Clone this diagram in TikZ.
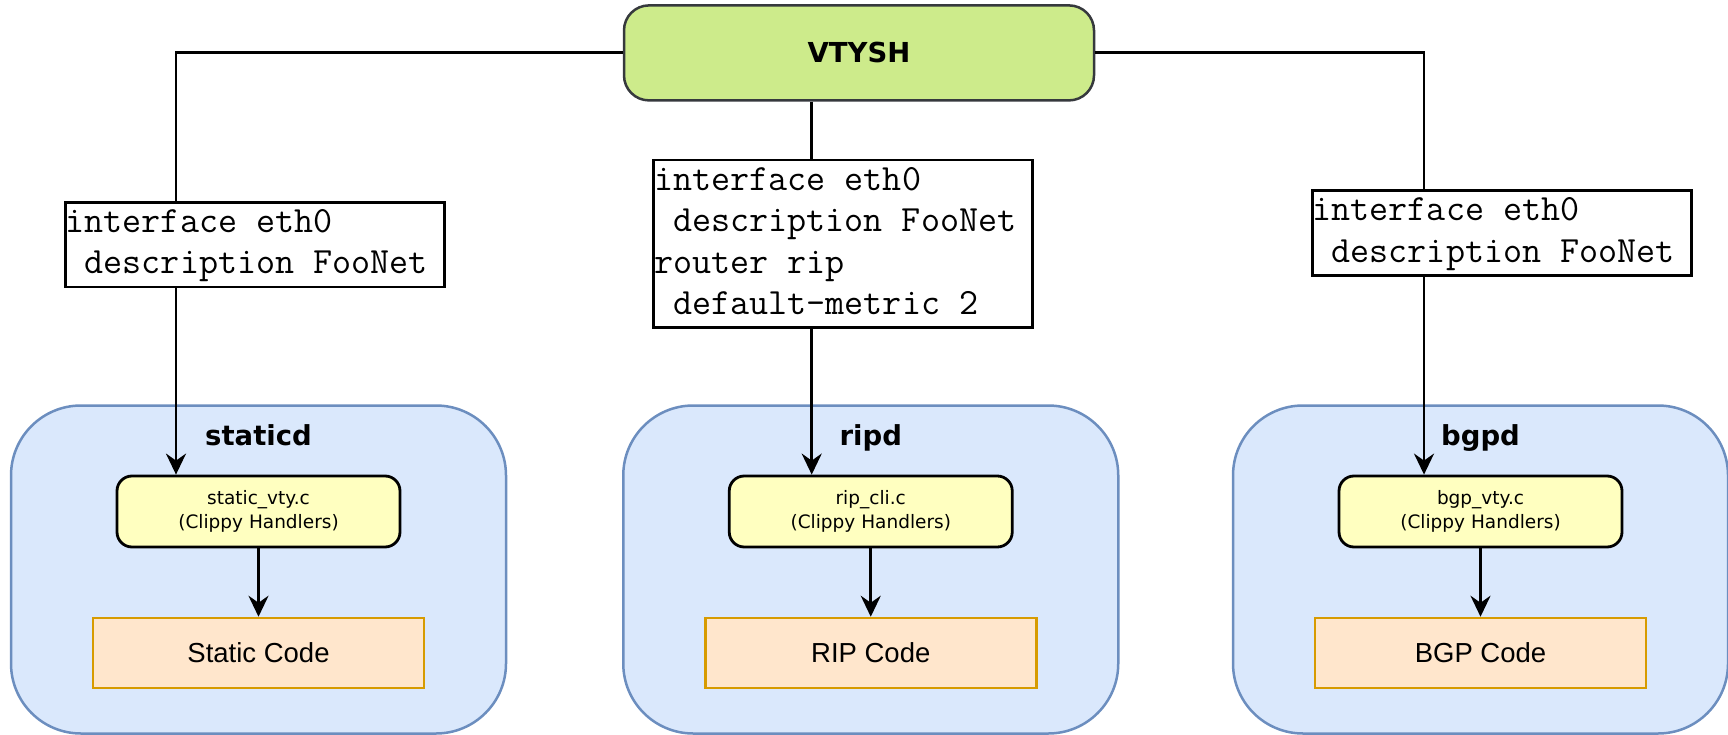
\documentclass[tikz,border=0pt]{standalone}
\usepackage{fontspec}
\usetikzlibrary{arrows.meta}
\newfontfamily\labelfont{DejaVu Sans}
\newfontfamily\codefont{Liberation Sans}
\definecolor{vtyfill}{HTML}{CDEB8B}
\definecolor{vtyline}{HTML}{36393D}
\definecolor{daemonfill}{HTML}{DAE8FC}
\definecolor{daemonline}{HTML}{6C8EBF}
\definecolor{clippyfill}{HTML}{FFFFC0}
\definecolor{codefill}{HTML}{FFE6CC}
\definecolor{codeline}{HTML}{D79B00}
% struts fixing the first baseline and the space under the last line
\newcommand\cfgtop{\rule{0pt}{30pt}}
\newcommand\cfgbot{\rule[-13pt]{0pt}{13pt}}
% one blank character cell of the typewriter face
\newcommand\cell{\hphantom{x}}
\newcommand\cfgfont{\ttfamily\fontsize{37}{41.5}\selectfont}
\begin{document}
\begin{tikzpicture}[x=1pt,y=-1pt,
  vtybox/.style={draw=vtyline, fill=vtyfill, line width=2.5pt, rounded corners=25pt,
    minimum width=470pt, minimum height=95pt, font=\labelfont\bfseries\fontsize{27.5}{33}\selectfont},
  daemon/.style={draw=daemonline, fill=daemonfill, line width=2.5pt, rounded corners=70pt,
    minimum width=495pt, minimum height=328pt},
  daemonlabel/.style={anchor=base, font=\labelfont\bfseries\fontsize{27.5}{33}\selectfont},
  clippy/.style={draw=black, fill=clippyfill, line width=2.8pt, rounded corners=15pt,
    minimum width=283pt, minimum height=71pt, align=center,
    font=\labelfont\fontsize{18.5}{23.3}\selectfont},
  codebox/.style={draw=codeline, fill=codefill, line width=2.5pt,
    minimum width=331pt, minimum height=70pt, font=\codefont\fontsize{27.5}{33}\selectfont},
  cfgbox/.style={draw=black, fill=white, line width=2.8pt, align=left, text width=378pt,
    inner xsep=0.5pt, inner ysep=0pt, anchor=north west, font=\cfgfont},
  link/.style={draw=black, line width=2.8pt},
  flow/.style={link, -{Stealth[length=21pt, width=20pt, inset=7pt]}}]
\useasboundingbox (0,0) rectangle (1728,735);

% daemon containers
\node[daemon] (dS) at (258.5,569.5) {};
\node[daemon] (dR) at (870.75,569.5) {};
\node[daemon] (dB) at (1480.5,569.5) {};
\node[daemonlabel] (lS) at ([yshift=-41.5pt]dS.north) {staticd};
\node[daemonlabel] (lR) at ([yshift=-41.5pt]dR.north) {ripd};
\node[daemonlabel] (lB) at ([yshift=-41.5pt]dB.north) {bgpd};

% handlers and back-end code
\node[clippy] (hS) at (dS.center |- 0,511.5) {static\_vty.c\\(Clippy Handlers)};
\node[clippy] (hR) at (dR.center |- 0,511.5) {rip\_cli.c\\(Clippy Handlers)};
\node[clippy] (hB) at (dB.center |- 0,511.5) {bgp\_vty.c\\(Clippy Handlers)};
\node[codebox] (cS) at (dS.center |- 0,653) {Static Code};
\node[codebox] (cR) at (dR.center |- 0,653) {RIP Code};
\node[codebox] (cB) at (dB.center |- 0,653) {BGP Code};

% vtysh and the configuration it sends
\node[vtybox] (vty) at (859,52.9) {VTYSH};
\node[cfgbox] (fS) at (63.8,201)
  {\cfgtop interface\cell eth0\\\cell description\cell FooNet\cfgbot};
\node[cfgbox] (fR) at (652.4,158.7)
  {\cfgtop interface\cell eth0\\\cell description\cell FooNet\\router\cell rip\\\cell default-metric\cell 2\cfgbot};
\node[cfgbox] (fB) at (1310.7,189.3)
  {\cfgtop interface\cell eth0\\\cell description\cell FooNet\cfgbot};

% routing columns
\coordinate (xS) at (176,0);
\coordinate (xR) at (811.7,0);
\coordinate (xB) at (1424,0);

\draw[link] (vty.west) -| (xS |- fS.north);
\draw[link] (vty.east) -| (xB |- fB.north);
\draw[link] (xR |- vty.south) -- (xR |- fR.north);

\draw[flow] (xS |- fS.south) -- (xS |- hS.north);
\draw[flow] (xR |- fR.south) -- (xR |- hR.north);
\draw[flow] (xB |- fB.south) -- (xB |- hB.north);

\draw[flow] (hS) -- (cS);
\draw[flow] (hR) -- (cR);
\draw[flow] (hB) -- (cB);
\end{tikzpicture}
\end{document}
